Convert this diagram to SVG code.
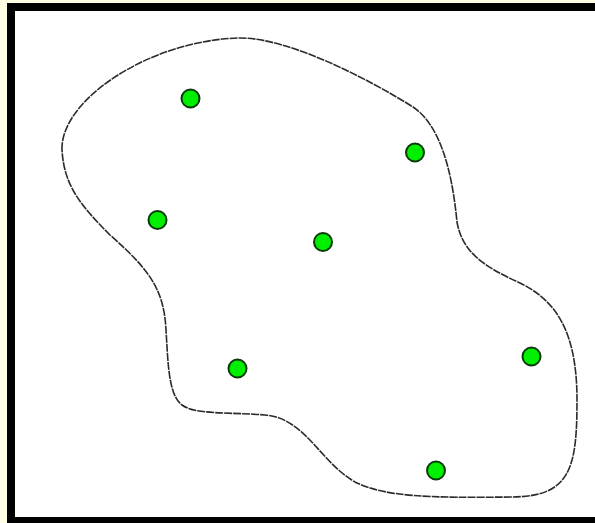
<svg xmlns="http://www.w3.org/2000/svg" width="595" height="523" viewBox="0 0 595 523">
<style>
.dot{fill:#00ee00;stroke:#0a3a0a;stroke-width:2}
.blob{fill:none;stroke:#2a2a2a;stroke-width:1.6;stroke-dasharray:8 1}
</style>
<rect x="0" y="0" width="595" height="523" fill="#fffde3"/>
<rect id="frame" x="11" y="7" width="592" height="514" fill="#fff" stroke="#000" stroke-width="8"/>
<g id="region">
<path class="blob" d="M62,150 C60,100 150,40 240,38 C290,38 370,80 413,107 C440,125 452,170 457,222 C462,250 480,265 520,283 C555,300 577,330 577,400 C577,470 570,497 510,497 C430,498 385,497 355,482 C320,462 305,418 265,415 C230,412 195,415 182,405 C168,395 168,360 166,330 C164,290 150,270 110,235 C80,205 64,185 62,150 Z"/>
</g>
<g id="points">
<circle id="p1" class="dot" cx="190.5" cy="98.5" r="9"/>
<circle id="p2" class="dot" cx="415" cy="152.5" r="9"/>
<circle id="p3" class="dot" cx="157.5" cy="220" r="9"/>
<circle id="p4" class="dot" cx="323" cy="242" r="9"/>
<circle id="p5" class="dot" cx="237.5" cy="368.5" r="9"/>
<circle id="p6" class="dot" cx="531.5" cy="356.5" r="9"/>
<circle id="p7" class="dot" cx="436" cy="470.5" r="9"/>
</g>
</svg>
